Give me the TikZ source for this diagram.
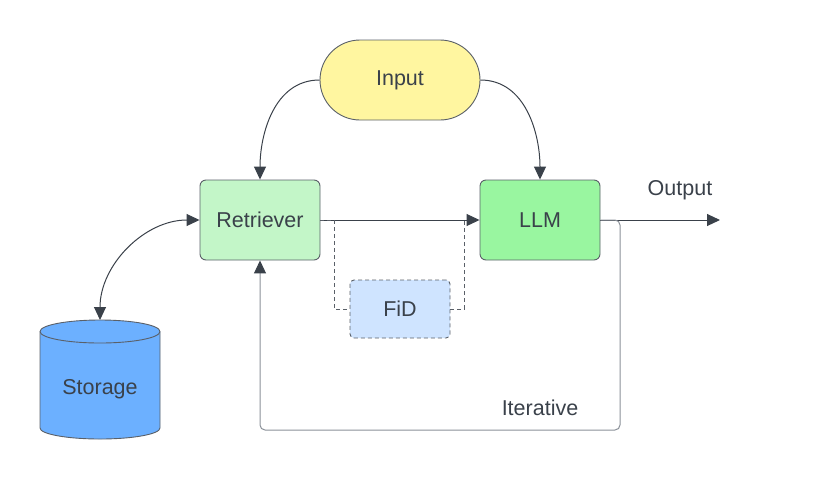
\documentclass[tikz,border=0pt]{standalone}
\usepackage{fontspec}
\setmainfont{Liberation Sans}
\usetikzlibrary{arrows.meta,shapes.misc}
\definecolor{ink}{HTML}{3A414A}
\definecolor{edge}{HTML}{5A6068}
\definecolor{loopc}{HTML}{8A9098}
\definecolor{inputc}{HTML}{FFF6A0}
\definecolor{retc}{HTML}{C3F6C8}
\definecolor{llmc}{HTML}{99F6A0}
\definecolor{fidc}{HTML}{CFE4FF}
\definecolor{storc}{HTML}{6CB0FF}
\tikzset{
  x=1pt,y=-1pt,
  lbl/.style={text=ink,font=\fontsize{21.5}{25}\selectfont},
  box/.style={draw=edge,line width=0.9pt,rounded corners=6pt,minimum width=120pt,minimum height=80pt,inner sep=0pt,lbl},
  conn/.style={draw=ink,line width=1pt,-{Triangle[length=13pt,width=12pt]}},
  dconn/.style={draw=ink,line width=1pt,{Triangle[length=13pt,width=12pt]}-{Triangle[length=13pt,width=12pt]}},
  dashln/.style={draw=edge,line width=0.9pt,dash pattern=on 4pt off 3pt},
}
\begin{document}
\begin{tikzpicture}
\useasboundingbox (0,0) rectangle (840,480);
\node[lbl,draw=edge,line width=0.9pt,fill=inputc,rounded rectangle,minimum width=160pt,minimum height=80pt,inner sep=0pt] (input) at (400,80) {Input};
\node[box,fill=retc] (ret) at (260,220) {Retriever};
\node[box,fill=llmc] (llm) at (540,220) {LLM};
\node[box,fill=fidc,dashln,minimum width=100pt,minimum height=58pt,rounded corners=4pt] (fid) at (400,309) {FiD};
% storage cylinder
\filldraw[fill=storc,draw=edge,line width=0.9pt] (40,331.5) -- (40,428) arc[start angle=180,end angle=360,x radius=60pt,y radius=11pt] -- (160,331.5) arc[start angle=0,end angle=180,x radius=60pt,y radius=11.5pt] -- cycle;
\draw[draw=edge,line width=0.9pt] (40,331.5) arc[start angle=180,end angle=360,x radius=60pt,y radius=11.5pt];
\coordinate (stortop) at (100,320);
\node[lbl] (stor) at (100,389) {Storage};
% connectors
\draw[conn] (input.west) to[out=180,in=90] (ret.north);
\draw[conn] (input.east) to[out=0,in=90] (llm.north);
\draw[dconn] (ret.west) to[out=180,in=90] (stortop);
\draw[conn] (ret.east) -- (llm.west);
\draw[dashln] (ret.east) -- ++(14,0) |- (fid.west);
\draw[dashln] (fid.east) -- ++(14,0) |- ([xshift=-16pt]llm.west);
\coordinate (outend) at (720,220);
\draw[conn] (llm.east) -- (outend);
\node[lbl,anchor=base] (outlbl) at (680,195) {Output};
\draw[draw=loopc,line width=1pt,rounded corners=5pt,-{Triangle[length=13pt,width=12pt,color=ink]}] (llm.east) -- (620,220) -- (620,430) -- (260,430) -- (ret.south);
\node[lbl,anchor=base] (iter) at (540,415) {Iterative};
\end{tikzpicture}
\end{document}
